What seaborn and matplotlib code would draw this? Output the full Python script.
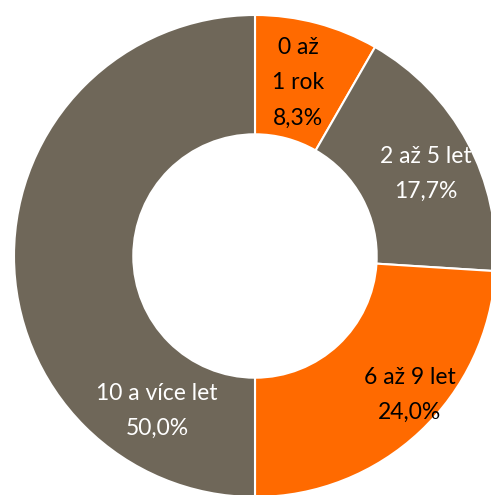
import matplotlib
matplotlib.use('Agg')
import matplotlib.pyplot as plt
import seaborn as sns

# data
categories = ['0 až\n1 rok', '2 až 5 let', '6 až 9 let', '10 a více let']
shares = [8.3, 17.7, 24.0, 50.0]
share_labels = ['8,3%', '17,7%', '24,0%', '50,0%']

# colours and label placement
colors = ['#FF6A00', '#6F6759', '#FF6A00', '#6F6759']
text_colors = ['black', 'white', 'black', 'white']
label_xy = [(0.178, 0.718), (0.71, 0.34), (0.643, -0.577), (-0.407, -0.643)]

sns.set_style('white')
plt.rcParams['font.family'] = ['Lato', 'DejaVu Sans']

fig = plt.figure(figsize=(4.91, 4.95), dpi=100)
ax = fig.add_axes([0, 0, 1, 1])

ax.pie(shares, colors=colors, startangle=90, counterclock=False, radius=1,
       wedgeprops=dict(width=0.495, edgecolor='white', linewidth=1.5))

for cat, lab, (x, y), tc in zip(categories, share_labels, label_xy, text_colors):
    ax.text(x, y, cat + '\n' + lab, ha='center', va='center', color=tc,
            fontsize=16.5, linespacing=1.85)

ax.set_xlim(-255 / 241, (491 - 255) / 241)
ax.set_ylim(-(495 - 256) / 241, 256 / 241)
ax.set_aspect('equal')
ax.axis('off')

fig.savefig('out.png', dpi=100)
